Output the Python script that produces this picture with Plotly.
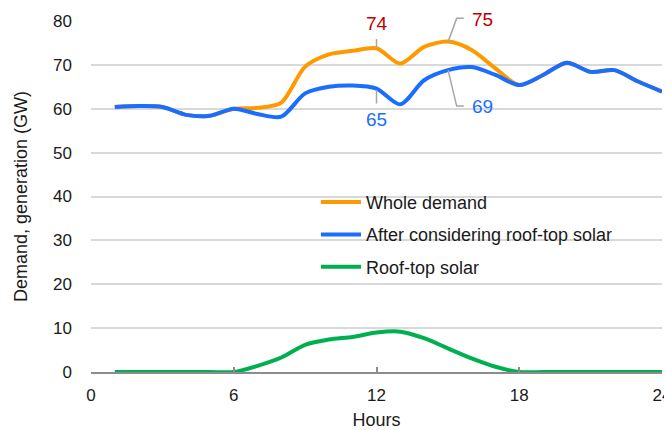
import plotly.graph_objects as go

hours = list(range(1, 25))
whole_demand = [60.4, 60.6, 60.4, 58.6, 58.4, 60.0, 60.2, 61.4, 69.6, 72.4, 73.2, 73.8,
                70.3, 74.1, 75.3, 73.4, 69.2, 65.4, 67.7, 70.5, 68.4, 68.8, 66.2, 63.9]
after_solar = [60.4, 60.6, 60.4, 58.6, 58.4, 60.0, 58.8, 58.2, 63.5, 65.0, 65.3, 64.6,
               61.0, 66.5, 68.8, 69.5, 67.7, 65.4, 67.7, 70.5, 68.4, 68.8, 66.2, 63.9]
roof_solar = [0, 0, 0, 0, 0, 0, 1.4, 3.3, 6.2, 7.4, 8.0, 9.0,
              9.2, 7.7, 5.4, 3.1, 1.2, 0, 0, 0, 0, 0, 0, 0]

series_names = ["Whole demand", "After considering roof-top solar", "Roof-top solar"]
series_colors = ["#FF9900", "#1A6EFF", "#00B050"]

x_ticks = [0, 6, 12, 18, 24]
y_ticks = [0, 10, 20, 30, 40, 50, 60, 70, 80]
Y_MAX = 80

FONT = "Arial"

fig = go.Figure()
for name, vals, col in zip(series_names, [whole_demand, after_solar, roof_solar], series_colors):
    fig.add_trace(go.Scatter(
        x=hours, y=vals, name=name, mode="lines",
        line=dict(color=col, width=4, shape="spline", smoothing=0.8),
        cliponaxis=False, legendgroup=name,
    ))

grey = "#A6A6A6"
def py(v):
    return v / Y_MAX

fig.add_shape(type="line", xref="x", yref="paper", x0=12, y0=py(73.8), x1=12, y1=py(75.9), line=dict(color=grey, width=1.5))
fig.add_shape(type="path", xref="x", yref="paper",
              path=f"M 15.01 {py(75.3)} L 15.37 {py(80.6)} L 15.67 {py(80.6)}", line=dict(color=grey, width=1.5))
fig.add_shape(type="line", xref="x", yref="paper", x0=12, y0=py(64.3), x1=12, y1=py(61.2), line=dict(color=grey, width=1.5))
fig.add_shape(type="path", xref="x", yref="paper",
              path=f"M 15.01 {py(68.8)} L 15.37 {py(60.6)} L 15.67 {py(60.6)}", line=dict(color=grey, width=1.5))

red = "#C00000"
blue = "#1A6EFF"
labels = [("74", 12, 79.4, red, "center"), ("75", 15.92, 80.4, red, "left"),
          ("65", 12, 57.6, blue, "center"), ("69", 15.94, 60.4, blue, "left")]
for txt, xv, yv, col, xa in labels:
    fig.add_annotation(x=xv, y=py(yv), xref="x", yref="paper", text=txt, showarrow=False,
                       font=dict(color=col, size=19, family=FONT), xanchor=xa, yanchor="middle")

fig.update_layout(
    width=664, height=422,
    margin=dict(l=83, r=10, t=13, b=58, autoexpand=False),
    paper_bgcolor="white", plot_bgcolor="white",
    font=dict(family=FONT, size=16, color="#1a1a1a"),
    legend=dict(x=0.394, y=0.536, xanchor="left", yanchor="top",
                font=dict(size=18, family=FONT), bgcolor="rgba(0,0,0,0)",
                traceorder="grouped", tracegroupgap=6, itemwidth=40),
    showlegend=True,
    xaxis=dict(range=[0, 24], tickvals=x_ticks, ticktext=[str(v) for v in x_ticks],
               showgrid=False, zeroline=False, showline=True, linecolor="#8C8C8C", linewidth=1.5,
               ticks="inside", ticklen=5, tickcolor="#8C8C8C", tickwidth=1.5,
               tickfont=dict(size=17), ticklabelstandoff=7, automargin=False,
               title=dict(text="Hours", font=dict(size=18), standoff=13)),
    yaxis=dict(range=[0, Y_MAX], tickvals=y_ticks, showgrid=True, gridcolor="#D9D9D9", gridwidth=1.5,
               zeroline=False, showline=False, ticks="", automargin=False,
               tickfont=dict(size=17), ticklabelstandoff=18,
               title=dict(text="Demand, generation (GW)", font=dict(size=18), standoff=20)),
)

fig.write_html("out.html")
